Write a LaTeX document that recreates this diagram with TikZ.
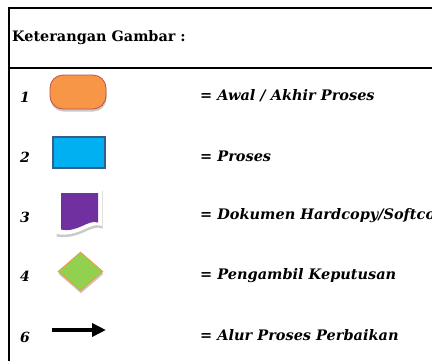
\documentclass[tikz,border=0pt]{standalone}
\usepackage{fontspec}
\setmainfont{DejaVu Serif}
\usetikzlibrary{shapes.geometric,shadows,arrows.meta}
\definecolor{orangef}{HTML}{F79646}
\definecolor{redb}{HTML}{C0504D}
\definecolor{bluef}{HTML}{00B0F0}
\definecolor{blueb}{HTML}{385D8A}
\definecolor{purplef}{HTML}{7030A0}
\definecolor{greenf}{HTML}{92D050}
\begin{document}
\begin{tikzpicture}[x=1pt,y=-1pt,
  frameline/.style={line width=2pt,black},
  lbl/.style={anchor=west,inner sep=0pt,font=\fontsize{14.5}{16}\selectfont\bfseries\itshape},
  num/.style={inner sep=0pt,font=\fontsize{14}{16}\selectfont\bfseries\itshape},
  shad/.style={drop shadow={shadow xshift=0.5pt,shadow yshift=-2.5pt,opacity=0.35,fill=black!60}}]
\useasboundingbox (0,0) rectangle (432,360);
\clip (0,0) rectangle (432,360);
\fill[white] (0,0) rectangle (432,360);
% frame
\draw[frameline] (9,7.7) -- (440,7.7);
\draw[frameline] (9,67.7) -- (440,67.7);
\draw[frameline] (9,6.7) -- (9,365);
\node[anchor=west,inner sep=0pt,font=\fontsize{14.4}{16}\selectfont\bfseries] (title) at (12,38) {Keterangan Gambar :};
% numbers
\node[num] (n1) at (25,97) {1};
\node[num] (n2) at (25,157) {2};
\node[num] (n3) at (25,217) {3};
\node[num] (n4) at (25,276) {4};
\node[num] (n6) at (25,337) {6};
% shapes
\node[draw=redb,line width=0.8pt,fill=orangef,rectangle,rounded corners=13pt,minimum width=56pt,minimum height=34pt,inner sep=0pt,shad] (s1) at (78,92) {};
\node[draw=blueb,line width=2pt,fill=bluef,rectangle,minimum width=52pt,minimum height=31pt,inner sep=0pt] (s2) at (79,152.5) {};
\path[fill=white,shad] (56,188) -- (102,188) -- (102,226) .. controls (90,221) and (80,238) .. (56,234) -- cycle;
\path[fill=purplef] (61,193) -- (98,193) -- (98,222.5) .. controls (88,219) and (78,233) .. (61,229.5) -- cycle;
\coordinate (s3) at (79,212);
\node[diamond,draw=orangef,line width=0.8pt,fill=greenf,minimum width=45pt,minimum height=39pt,inner sep=0pt,aspect=1.15,shad] (s4) at (80.5,271.5) {};
\coordinate (a1) at (52,330);
\coordinate (a2) at (106,330);
\draw[line width=4.5pt,-{Triangle[length=14pt,width=13pt]},drop shadow={shadow xshift=0.5pt,shadow yshift=-1.5pt,opacity=0.3}] (a1) -- (a2);
% labels
\node[lbl] (l1) at (200,96) {= Awal / Akhir Proses};
\node[lbl] (l2) at (200,156) {= Proses};
\node[lbl] (l3) at (200,216) {= Dokumen Hardcopy/Softcopy};
\node[lbl] (l4) at (200,276) {= Pengambil Keputusan};
\node[lbl] (l6) at (200,335) {= Alur Proses Perbaikan};
\end{tikzpicture}
\end{document}
